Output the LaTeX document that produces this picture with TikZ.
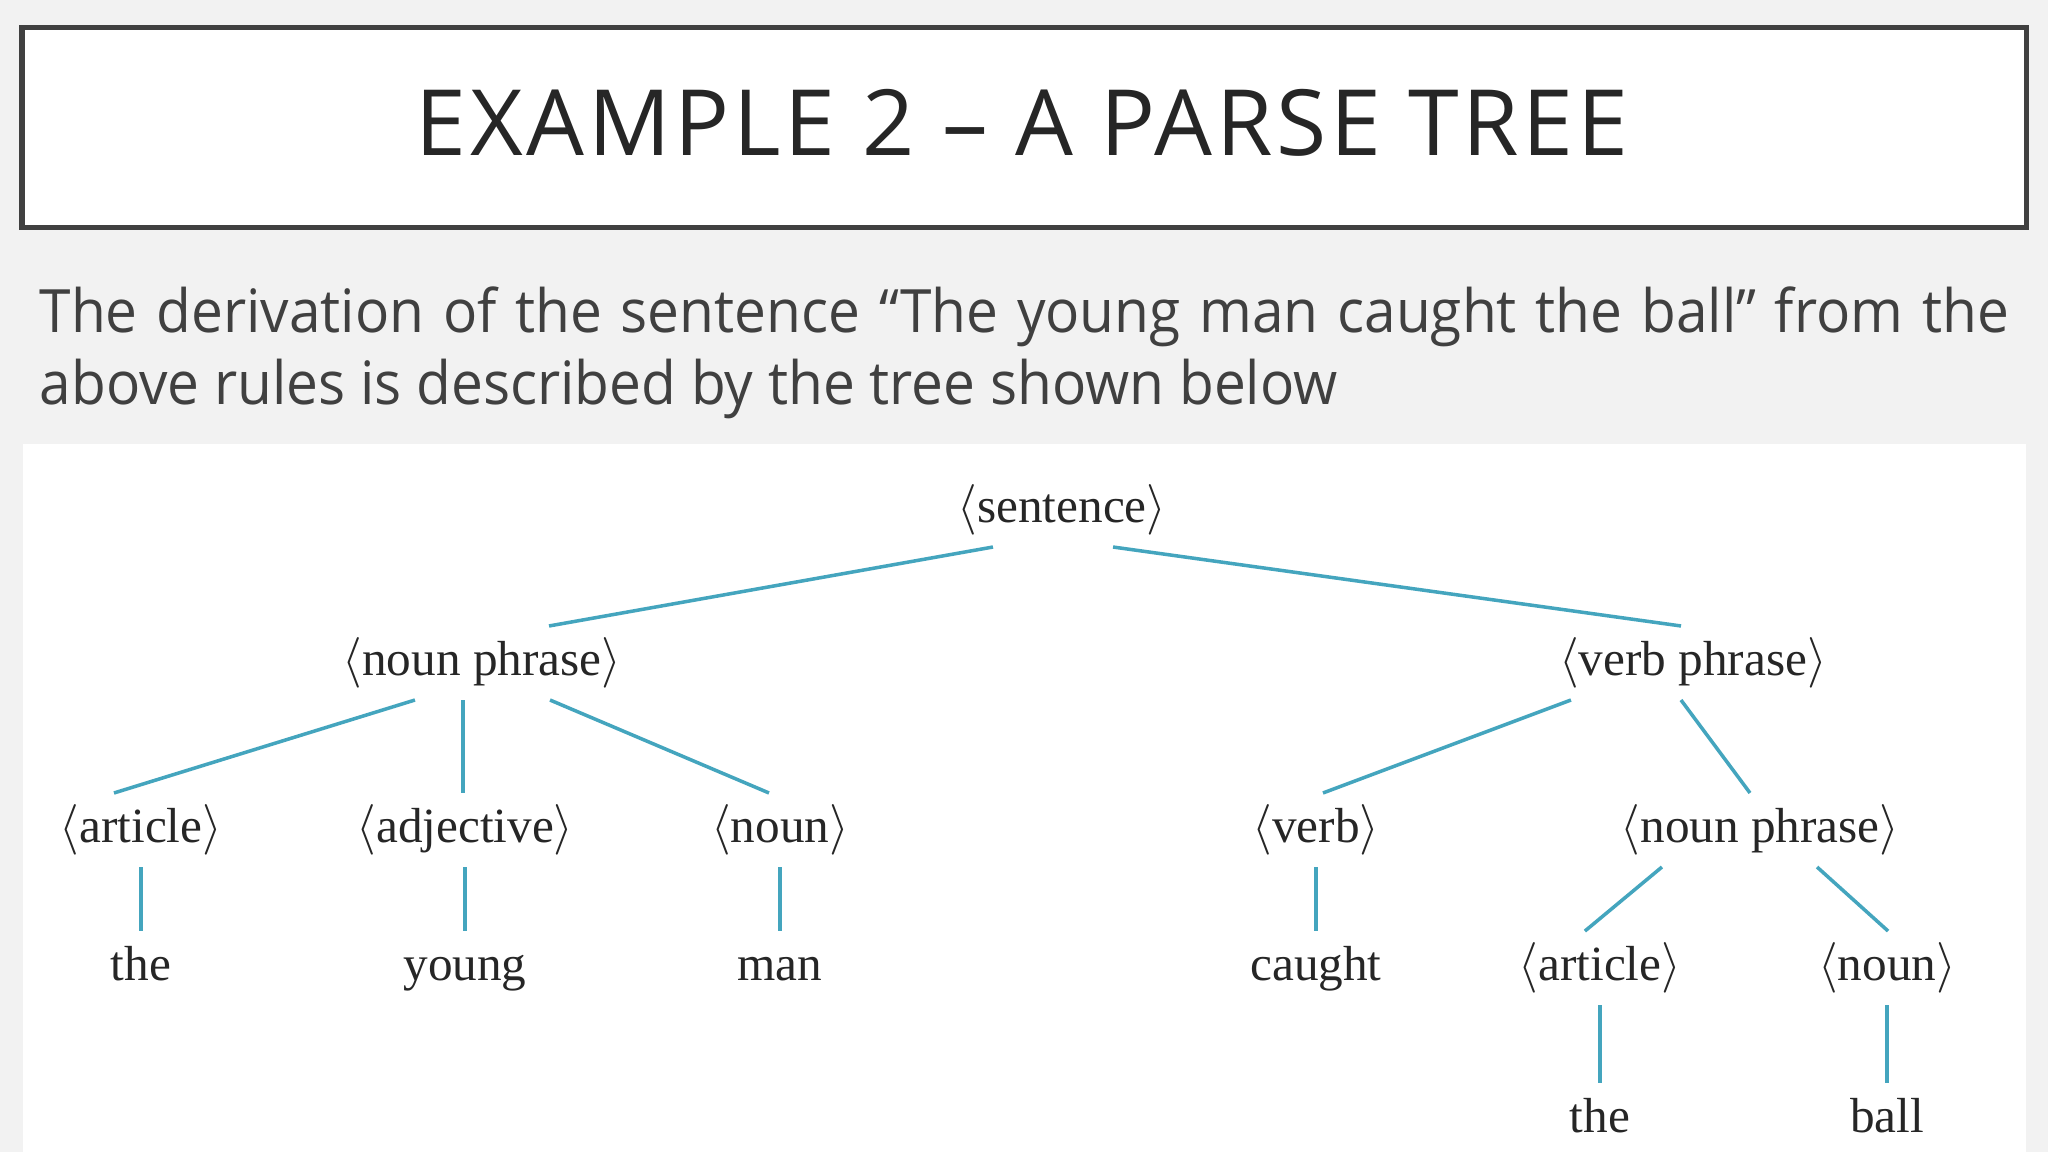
\documentclass[tikz,border=0pt]{standalone}
\usepackage{fontspec}
\setmainfont{Liberation Serif}
\newfontfamily\slidefont[FakeStretch=0.95]{Open Sans}
\newfontfamily\headfont[LetterSpace=4]{Open Sans}
\usetikzlibrary{positioning}

\definecolor{slidebg}{HTML}{F2F2F2}
\definecolor{frameink}{HTML}{404040}
\definecolor{bodyink}{HTML}{404040}
\definecolor{titleink}{HTML}{262626}
\definecolor{treeink}{HTML}{262626}
\definecolor{branch}{HTML}{44A5BE}

\begin{document}
\begin{tikzpicture}[
        x=0.01cm, y=-0.01cm,
        node distance=0.64cm,
        title/.style={font=\headfont\fontsize{26}{30}\selectfont, text=titleink, inner sep=0pt},
        body/.style={font=\slidefont\fontsize{17}{20}\selectfont, text=bodyink, inner sep=0pt},
        tnode/.style={font=\fontsize{14}{16}\selectfont, text=treeink, inner sep=0pt, outer ysep=0.15cm, text height=0.34cm, text depth=0.1cm},
        link/.style={draw=branch, line width=1pt}
    ]

    % Slide
    \fill[slidebg] (0,0) rectangle (2048,1152);
    \draw[frameink, fill=white, line width=0.05cm] (22,28) rectangle (2026,228);
    \fill[white] (23,444) rectangle (2026,1152);
    \useasboundingbox (0,0) rectangle (2048,1152);

    % Title and text
    \node[title, anchor=base] (title) at (1022,156) {EXAMPLE 2 – A PARSE TREE};
    \node[body, anchor=base west] (line1) at (39,333) {\makebox[19.68cm][s]{The derivation of the sentence “The young man caught the ball” from the}};
    \node[body, anchor=base west] (line2) at (39,405) {above rules is described by the tree shown below};

    % Root
    \node[tnode] (sentence) at (1062,510) {$\langle$sentence$\rangle$};

    % Level 1: phrases
    \node[tnode] (np) at (482,663) {$\langle$noun phrase$\rangle$};
    \node[tnode] (vp) at (1693,663) {$\langle$verb phrase$\rangle$};

    % Level 2
    \node[tnode] (art1) at (141,830) {$\langle$article$\rangle$};
    \node[tnode] (adj) at (465,830) {$\langle$adjective$\rangle$};
    \node[tnode] (noun1) at (780,830) {$\langle$noun$\rangle$};
    \node[tnode] (verb) at (1316,830) {$\langle$verb$\rangle$};
    \node[tnode] (np2) at (1760,830) {$\langle$noun phrase$\rangle$};

    % Level 3: words (and the last phrase's parts)
    \node[tnode, below=of art1] (the1) {the};
    \node[tnode, below=of adj] (young) {young};
    \node[tnode, below=of noun1] (man) {man};
    \node[tnode, below=of verb] (caught) {caught};
    \node[tnode, below=of np2, xshift=-1.6cm] (art2) {$\langle$article$\rangle$};
    \node[tnode, below=of np2, xshift=1.27cm] (noun2) {$\langle$noun$\rangle$};

    % Level 4
    \node[tnode, below=0.78cm of art2] (the2) {the};
    \node[tnode, below=0.78cm of noun2] (ball) {ball};

    % Edges
    \draw[link] ([xshift=-0.69cm]sentence.south) -- ([xshift=0.67cm]np.north);
    \draw[link] ([xshift=0.51cm]sentence.south) -- ([xshift=-0.12cm]vp.north);

    \draw[link] ([xshift=-0.67cm]np.south) -- ([xshift=-0.27cm]art1.north);
    \draw[link] ([xshift=-0.19cm]np.south) -- ([xshift=-0.02cm]adj.north);
    \draw[link] ([xshift=0.68cm]np.south) -- ([xshift=-0.11cm]noun1.north);
    \draw[link] ([xshift=-1.22cm]vp.south) -- ([xshift=0.07cm]verb.north);
    \draw[link] ([xshift=-0.12cm]vp.south) -- ([xshift=-0.10cm]np2.north);

    \draw[link] (art1) -- (the1);
    \draw[link] (adj) -- (young);
    \draw[link] (noun1) -- (man);
    \draw[link] (verb) -- (caught);
    \draw[link] ([xshift=-0.98cm]np2.south) -- ([xshift=-0.15cm]art2.north);
    \draw[link] ([xshift=0.57cm]np2.south) -- ([xshift=0.01cm]noun2.north);

    \draw[link] (art2) -- (the2);
    \draw[link] (noun2) -- (ball);

\end{tikzpicture}
\end{document}
